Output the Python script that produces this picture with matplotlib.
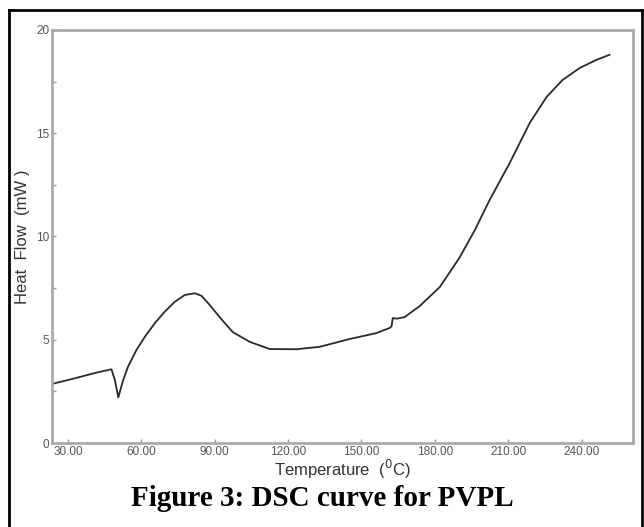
import numpy as np
import matplotlib
matplotlib.use('Agg')
import matplotlib.pyplot as plt
from matplotlib.lines import Line2D

plt.rcParams['font.family'] = ['Liberation Sans', 'DejaVu Sans']

# DSC curve
temp = [23.5, 30, 35, 41, 47.8, 49.2, 50.6, 52.6, 54.6, 58, 61.5, 65.5, 69.6,
        73.7, 77.8, 81.9, 84.6, 88, 92, 97.4, 104.3, 112.5, 123.5, 133, 145,
        156, 161.5, 162.3, 162.8, 164.5, 167.7, 173.8, 182, 190, 196.3, 202.4,
        210.6, 218.8, 225.7, 232.2, 239.2, 246, 251.4]
heat_flow = [2.86, 3.05, 3.2, 3.39, 3.57, 3.05, 2.21, 3.05, 3.7, 4.5, 5.15, 5.8,
             6.36, 6.84, 7.17, 7.25, 7.13, 6.68, 6.1, 5.37, 4.9, 4.55, 4.54,
             4.66, 5.03, 5.32, 5.57, 5.65, 6.05, 6.02, 6.1, 6.63, 7.55, 8.96,
             10.3, 11.77, 13.56, 15.5, 16.76, 17.58, 18.16, 18.55, 18.8]

x_ticks = [30, 60, 90, 120, 150, 180, 210, 240]
x_ticklabels = ['30.00', '60.00', '90.00', '120.00', '150.00', '180.00', '210.00', '240.00']
y_ticks = [0, 5, 10, 15, 20]

fig = plt.figure(figsize=(6.44, 5.27), dpi=100)

# outer black frame of the figure panel
W, H = 644.0, 527.0
x0, x1, y0 = 9 / W, 642 / W, 1 - 10 / H
for xs, ys in [([x0, x0], [-0.01, y0]), ([x0, x1], [y0, y0]), ([x1, x1], [y0, -0.01])]:
    fig.add_artist(Line2D(xs, ys, transform=fig.transFigure, color='black', lw=2))

ax = fig.add_axes([52 / W, 1 - 443 / H, (633 - 52) / W, (443 - 30) / H])
ax.plot(temp, heat_flow, color='#2a2a2a', lw=1.3, solid_joinstyle='round')

ax.set_xlim(23.5, 261)
ax.set_ylim(0, 20)
ax.set_xticks(x_ticks)
ax.set_xticklabels(x_ticklabels)
ax.set_yticks(y_ticks)
ax.set_yticks([2.5, 7.5, 12.5, 17.5], minor=True)
ax.tick_params(axis='both', which='both', direction='in', length=3, width=1,
               color='#999999', labelsize=8.5, labelcolor='#555555', pad=2)
for s in ax.spines.values():
    s.set_color('#aaaaaa')
    s.set_linewidth(2)

ax.set_xlabel('Temperature  ($^{0}$C)', fontsize=12, color='#333333', labelpad=0)
ax.set_ylabel('Heat  Flow  (mW )', fontsize=12, color='#333333', labelpad=4)

fig.text(0.5, 1 - 498 / H, 'Figure 3: DSC curve for PVPL', ha='center', va='center',
         fontsize=21, fontweight='bold', family='Liberation Serif')

fig.savefig('out.png', dpi=100)
